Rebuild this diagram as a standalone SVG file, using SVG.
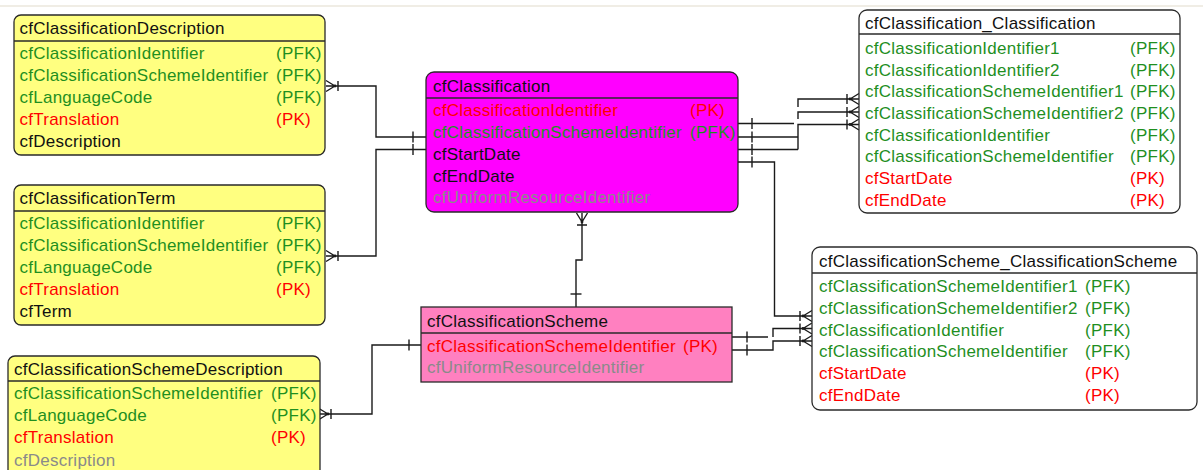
<svg xmlns="http://www.w3.org/2000/svg" xmlns:xlink="http://www.w3.org/1999/xlink" width="1203" height="470" viewBox="0 0 1203 470">
<style>
.bg{fill:#ffffff}
.ent{stroke:#2a2a2a;stroke-width:1.3}
.y{fill:#ffff80}
.m{fill:#ff00ff}
.p{fill:#ff80c0}
.w{fill:#ffffff}
.sep{stroke:#2a2a2a;stroke-width:1.3;fill:none}
text{font-family:"Liberation Sans",Arial,sans-serif;font-size:17px;letter-spacing:0.25px}
.k{fill:#111111}
.g{fill:#1f8f1f}
.r{fill:#ff0000}
.gr{fill:#8a8a8a}
</style>
<defs>
<g id="cf"><path d="M0,0 L-9,-5.5 M0,0 H-9 M0,0 L-9,5.5 M3,-5 V5" fill="none"/><circle r="1.4" fill="#1a1a1a" stroke="none"/></g>
<path id="bar" d="M0,-5.5 V5.5" fill="none"/>
</defs>
<rect class="bg" x="0" y="0" width="1203" height="470"/>
<line x1="0" y1="6" x2="1203" y2="6" stroke="#ebe7dc" stroke-width="1.5"/>

<g id="connectors" stroke="#1a1a1a" stroke-width="1.4" fill="none">
  <!-- cfClassificationDescription - cfClassification -->
  <path d="M335,86 H376 V137 H426"/>
  <use xlink:href="#cf" href="#cf" transform="translate(335,86)"/>
  <use xlink:href="#bar" href="#bar" transform="translate(413,137)"/>
  <!-- cfClassificationTerm - cfClassification -->
  <path d="M335,256 H376 V149.5 H426"/>
  <use xlink:href="#cf" href="#cf" transform="translate(335,256)"/>
  <use xlink:href="#bar" href="#bar" transform="translate(413,149.5)"/>
  <!-- cfClassification - cfClassificationScheme -->
  <path d="M582,222 V260 H576 V307"/>
  <use xlink:href="#cf" href="#cf" transform="translate(582,222) rotate(90)"/>
  <use xlink:href="#bar" href="#bar" transform="translate(576,294) rotate(90)"/>
  <!-- cfClassificationScheme - cfClassificationSchemeDescription -->
  <path d="M421,345 H372 V414 H328"/>
  <use xlink:href="#cf" href="#cf" transform="translate(328,414)"/>
  <use xlink:href="#bar" href="#bar" transform="translate(409,345)"/>
  <!-- cfClassification - cfClassification_Classification -->
  <path d="M738,123.5 H794"/>
  <path d="M738,137 H798"/>
  <path d="M738,149.5 H798"/>
  <path d="M798,107 V99 H850"/>
  <path d="M798,119 V112 H850"/>
  <path d="M798,149.5 V124.5 H850"/>
  <use xlink:href="#cf" href="#cf" transform="translate(850,99) rotate(180)"/>
  <use xlink:href="#cf" href="#cf" transform="translate(850,112) rotate(180)"/>
  <use xlink:href="#cf" href="#cf" transform="translate(850,124.5) rotate(180)"/>
  <use xlink:href="#bar" href="#bar" transform="translate(752,123.5)"/>
  <use xlink:href="#bar" href="#bar" transform="translate(752,137)"/>
  <use xlink:href="#bar" href="#bar" transform="translate(752,149.5)"/>
  <use xlink:href="#bar" href="#bar" transform="translate(752,162)"/>
  <!-- cfClassification - cfClassificationScheme_ClassificationScheme -->
  <path d="M738,162 H774.5 V316 H803"/>
  <use xlink:href="#cf" href="#cf" transform="translate(803,316) rotate(180)"/>
  <!-- cfClassificationScheme - cfClassificationScheme_ClassificationScheme -->
  <path d="M732,337 H768"/>
  <path d="M732,350 H773 V341 H803"/>
  <path d="M773,337 V328.5 H803"/>
  <use xlink:href="#cf" href="#cf" transform="translate(803,328.5) rotate(180)"/>
  <use xlink:href="#cf" href="#cf" transform="translate(803,341) rotate(180)"/>
  <use xlink:href="#bar" href="#bar" transform="translate(747,337)"/>
  <use xlink:href="#bar" href="#bar" transform="translate(747,350)"/>
</g>

<g id="cfClassificationDescription">
  <rect class="ent y" x="14" y="15" width="311" height="140" rx="7"/>
  <path class="sep" d="M14,41 H325"/>
  <text class="k" x="19.5" y="34">cfClassificationDescription</text>
  <text class="g" x="19.5" y="59">cfClassificationIdentifier</text><text class="g" x="276" y="59">(PFK)</text>
  <text class="g" x="19.5" y="81">cfClassificationSchemeIdentifier</text><text class="g" x="276" y="81">(PFK)</text>
  <text class="g" x="19.5" y="103">cfLanguageCode</text><text class="g" x="276" y="103">(PFK)</text>
  <text class="r" x="19.5" y="125">cfTranslation</text><text class="r" x="276" y="125">(PK)</text>
  <text class="k" x="19.5" y="147">cfDescription</text>
</g>

<g id="cfClassificationTerm">
  <rect class="ent y" x="14" y="185" width="311" height="140" rx="7"/>
  <path class="sep" d="M14,211 H325"/>
  <text class="k" x="19.5" y="204">cfClassificationTerm</text>
  <text class="g" x="19.5" y="229">cfClassificationIdentifier</text><text class="g" x="276" y="229">(PFK)</text>
  <text class="g" x="19.5" y="251">cfClassificationSchemeIdentifier</text><text class="g" x="276" y="251">(PFK)</text>
  <text class="g" x="19.5" y="273">cfLanguageCode</text><text class="g" x="276" y="273">(PFK)</text>
  <text class="r" x="19.5" y="295">cfTranslation</text><text class="r" x="276" y="295">(PK)</text>
  <text class="k" x="19.5" y="317">cfTerm</text>
</g>

<g id="cfClassificationSchemeDescription">
  <rect class="ent y" x="8" y="356" width="312" height="130" rx="7"/>
  <path class="sep" d="M8,381 H320"/>
  <text class="k" x="14" y="375">cfClassificationSchemeDescription</text>
  <text class="g" x="14" y="398.5">cfClassificationSchemeIdentifier</text><text class="g" x="271" y="398.5">(PFK)</text>
  <text class="g" x="14" y="420.5">cfLanguageCode</text><text class="g" x="271" y="420.5">(PFK)</text>
  <text class="r" x="14" y="443">cfTranslation</text><text class="r" x="271" y="443">(PK)</text>
  <text class="gr" x="14" y="465.5">cfDescription</text>
</g>

<g id="cfClassification">
  <rect class="ent m" x="426" y="72" width="312" height="140" rx="8"/>
  <path class="sep" d="M426,98 H738"/>
  <text class="k" x="433" y="91.5">cfClassification</text>
  <text class="r" x="433" y="116">cfClassificationIdentifier</text><text class="r" x="690" y="116">(PK)</text>
  <text class="g" x="433" y="137.5">cfClassificationSchemeIdentifier</text><text class="g" x="690" y="137.5">(PFK)</text>
  <text class="k" x="433" y="159.5">cfStartDate</text>
  <text class="k" x="433" y="181.5">cfEndDate</text>
  <text class="gr" x="433" y="203">cfUniformResourceIdentifier</text>
</g>

<g id="cfClassificationScheme">
  <rect class="ent p" x="421" y="307" width="311" height="75"/>
  <path class="sep" d="M421,333 H732"/>
  <text class="k" x="427" y="326.5">cfClassificationScheme</text>
  <text class="r" x="427" y="351.5">cfClassificationSchemeIdentifier</text><text class="r" x="683" y="351.5">(PK)</text>
  <text class="gr" x="427" y="372.5">cfUniformResourceIdentifier</text>
</g>

<g id="cfClassification_Classification">
  <rect class="ent w" x="859" y="10" width="321" height="203" rx="8"/>
  <path class="sep" d="M859,34 H1180"/>
  <text class="k" x="865" y="29">cfClassification_Classification</text>
  <text class="g" x="865" y="54">cfClassificationIdentifier1</text><text class="g" x="1130" y="54">(PFK)</text>
  <text class="g" x="865" y="75.5">cfClassificationIdentifier2</text><text class="g" x="1130" y="75.5">(PFK)</text>
  <text class="g" x="865" y="97">cfClassificationSchemeIdentifier1</text><text class="g" x="1130" y="97">(PFK)</text>
  <text class="g" x="865" y="119">cfClassificationSchemeIdentifier2</text><text class="g" x="1130" y="119">(PFK)</text>
  <text class="g" x="865" y="140.5">cfClassificationIdentifier</text><text class="g" x="1130" y="140.5">(PFK)</text>
  <text class="g" x="865" y="162">cfClassificationSchemeIdentifier</text><text class="g" x="1130" y="162">(PFK)</text>
  <text class="r" x="865" y="184">cfStartDate</text><text class="r" x="1130" y="184">(PK)</text>
  <text class="r" x="865" y="205.5">cfEndDate</text><text class="r" x="1130" y="205.5">(PK)</text>
</g>

<g id="cfClassificationScheme_ClassificationScheme">
  <rect class="ent w" x="812" y="247" width="385" height="163" rx="8"/>
  <path class="sep" d="M812,273 H1197"/>
  <text class="k" x="819" y="267">cfClassificationScheme_ClassificationScheme</text>
  <text class="g" x="819" y="291.5">cfClassificationSchemeIdentifier1</text><text class="g" x="1085" y="291.5">(PFK)</text>
  <text class="g" x="819" y="313.5">cfClassificationSchemeIdentifier2</text><text class="g" x="1085" y="313.5">(PFK)</text>
  <text class="g" x="819" y="335.5">cfClassificationIdentifier</text><text class="g" x="1085" y="335.5">(PFK)</text>
  <text class="g" x="819" y="356.5">cfClassificationSchemeIdentifier</text><text class="g" x="1085" y="356.5">(PFK)</text>
  <text class="r" x="819" y="378.5">cfStartDate</text><text class="r" x="1085" y="378.5">(PK)</text>
  <text class="r" x="819" y="400.5">cfEndDate</text><text class="r" x="1085" y="400.5">(PK)</text>
</g>
</svg>
